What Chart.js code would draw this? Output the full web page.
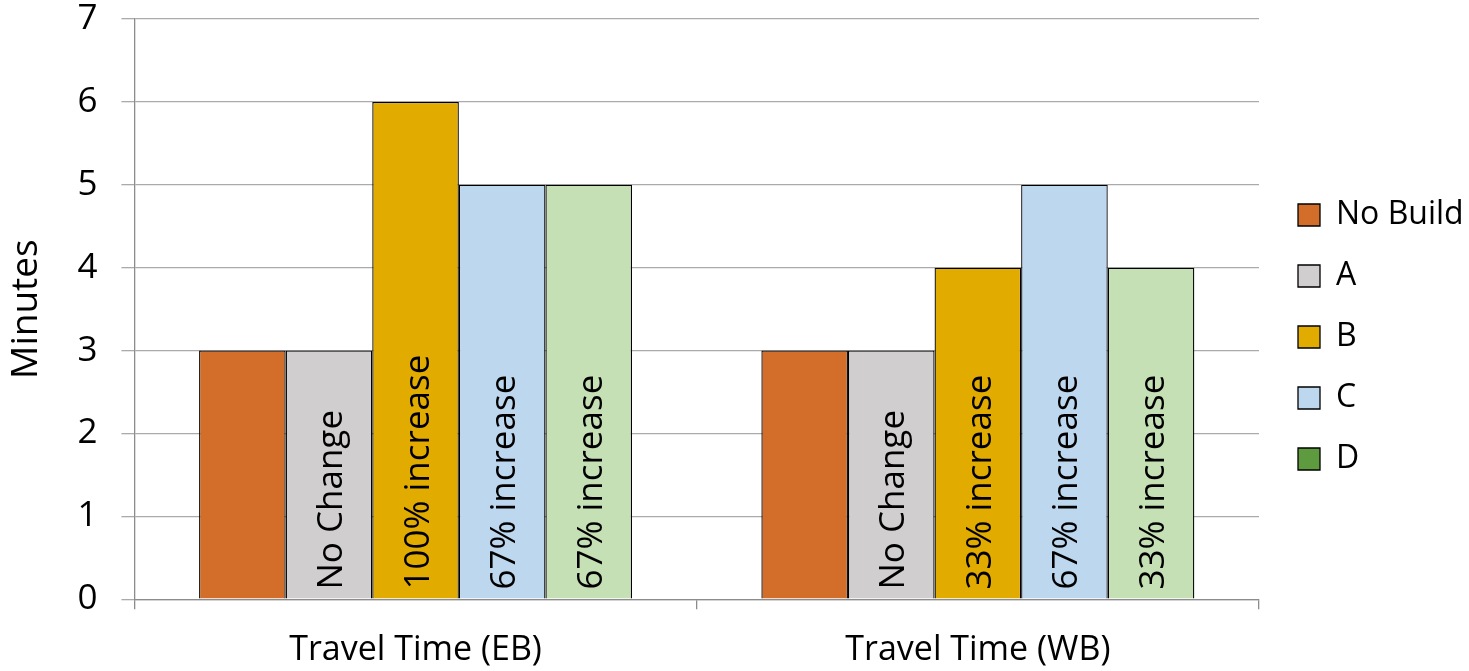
<!DOCTYPE html>
<html>
<head>
<meta charset="utf-8">
<script src="https://cdn.jsdelivr.net/npm/chart.js@4/dist/chart.umd.min.js"></script>
<style>
  html, body { margin: 0; padding: 0; background: #fff; }
  #wrap { width: 1469px; height: 671px; }
</style>
</head>
<body>
<div id="wrap"><canvas id="chart"></canvas></div>
<script>
const categories = ["Travel Time (EB)", "Travel Time (WB)"]
const seriesNames = ["No Build", "A", "B", "C", "D"]
const noBuild = [3, 3]
const optA = [3, 3]
const optB = [6, 4]
const optC = [5, 5]
const optD = [5, 4]
const barNotes = [
  ["", ""],
  ["No Change", "No Change"],
  ["100% increase", "33% increase"],
  ["67% increase", "67% increase"],
  ["67% increase", "33% increase"]
]
const yTicks = [0, 1, 2, 3, 4, 5, 6, 7]

const barColors = ["#d26d2a", "#d0cece", "#e2ab00", "#bdd7ee", "#c5e0b4"]
const legendColors = ["#d26d2a", "#d0cece", "#e2ab00", "#bdd7ee", "#5e9a3e"]
const font = "'Open Sans', 'DejaVu Sans', sans-serif"

const values = [noBuild, optA, optB, optC, optD]

// text written upright inside each bar
const barNotesPlugin = {
  id: "barNotes",
  afterDatasetsDraw(chart) {
    const ctx = chart.ctx
    chart.data.datasets.forEach((ds, i) => {
      const meta = chart.getDatasetMeta(i)
      meta.data.forEach((bar, j) => {
        const txt = barNotes[i][j]
        if (!txt) return
        ctx.save()
        ctx.translate(bar.x + 2, bar.base - 9)
        ctx.rotate(-Math.PI / 2)
        ctx.font = "35px " + font
        ctx.fillStyle = "#000"
        ctx.textAlign = "left"
        ctx.textBaseline = "middle"
        ctx.fillText(txt, 0, 1)
        ctx.restore()
      })
    })
  }
}

// legend column: fixed width, nudged to the reference position
const legendPlace = {
  id: "legendPlace",
  beforeLayout(chart) {
    const lg = chart.legend
    if (lg && !lg._fixed) {
      const fit = lg.fit
      lg.fit = function () {
        fit.call(this)
        if (!this.isHorizontal()) this.width = 210
      }
      lg._fixed = true
    }
  },
  afterLayout(chart) {
    const lg = chart.legend
    const dx = 1269 - lg.left
    lg.left += dx
    lg.right += dx
    lg.top = 7
    lg.bottom = 667
  }
}

new Chart(document.getElementById("chart"), {
  type: "bar",
  data: {
    labels: categories,
    datasets: seriesNames.map((name, i) => ({
      label: name,
      data: values[i],
      backgroundColor: barColors[i],
      borderColor: "#000",
      borderWidth: 1.3,
      categoryPercentage: 0.77,
      barPercentage: 1.0
    }))
  },
  options: {
    responsive: true,
    maintainAspectRatio: false,
    animation: false,
    layout: { padding: { top: 19, right: 0, left: 4, bottom: -21 } },
    plugins: {
      tooltip: { enabled: false },
      legend: {
        position: "right",
        labels: {
          color: "#000",
          font: { family: font, size: 32 },
          boxWidth: 22,
          boxHeight: 22,
          padding: 29,
          generateLabels(chart) {
            return seriesNames.map((name, i) => ({
              text: name,
              fillStyle: legendColors[i],
              strokeStyle: "#000",
              lineWidth: 1.3,
              datasetIndex: i,
              hidden: false
            }))
          }
        }
      }
    },
    scales: {
      x: {
        grid: {
          display: true,
          drawOnChartArea: false,
          drawTicks: true,
          tickLength: 10,
          color: "#8c8c8c",
          lineWidth: 1.3,
          offset: true
        },
        border: { color: "#8c8c8c", width: 1.3 },
        ticks: {
          color: "#000",
          font: { family: font, size: 34 },
          padding: 21
        }
      },
      y: {
        min: 0,
        max: 7,
        afterBuildTicks(axis) {
          axis.ticks = yTicks.map(v => ({ value: v }))
        },
        afterFit(axis) {
          // let the plot area reach the top like the original
          axis.paddingTop = 0
          axis.paddingBottom = 0
        },
        grid: {
          color: "#aaaaaa",
          lineWidth: 1.3,
          tickLength: 13
        },
        border: { color: "#8c8c8c", width: 1.3 },
        ticks: {
          color: "#000",
          font: { family: font, size: 35 },
          padding: 24
        },
        title: {
          display: true,
          text: "Minutes",
          color: "#000",
          font: { family: font, size: 37 },
          padding: { top: 0, bottom: 5 }
        }
      }
    }
  },
  plugins: [barNotesPlugin, legendPlace]
})
</script>
</body>
</html>
